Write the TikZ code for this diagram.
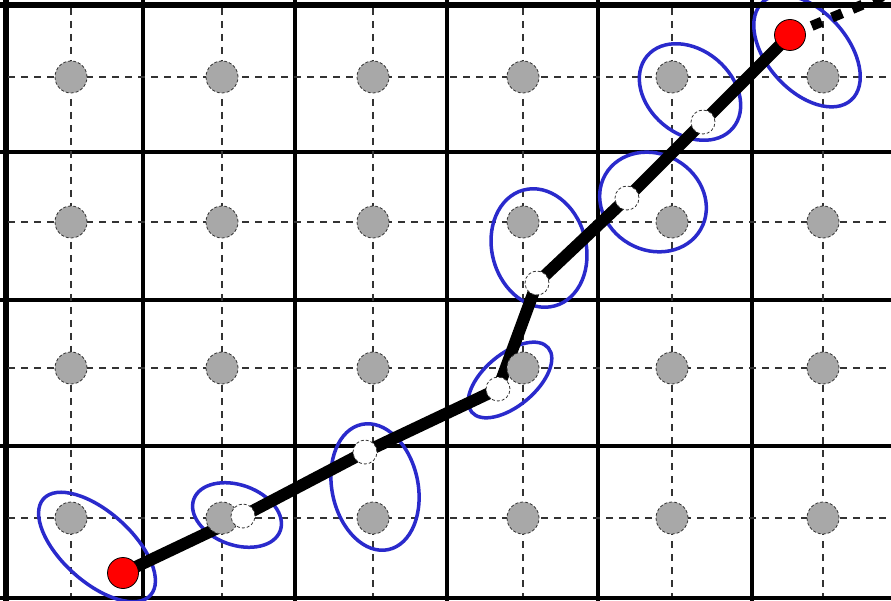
\documentclass[tikz,border=0pt]{standalone}
\usetikzlibrary{shapes.geometric}
\pgfdeclarelayer{background}
\pgfsetlayers{background,main}
\definecolor{ellblue}{RGB}{42,42,204}
\definecolor{dotgray}{RGB}{168,168,168}
\begin{document}
\begin{tikzpicture}[x=1pt,y=1pt,
  gridline/.style={line width=3.5pt, black},
  guide/.style={line width=1.5pt, black!80, dash pattern=on 7pt off 6pt},
  graydot/.style={circle, inner sep=0pt, minimum size=32pt, fill=dotgray, draw=black!80, line width=0.8pt, dash pattern=on 3pt off 2pt},
  whitedot/.style={circle, inner sep=0pt, minimum size=24pt, fill=white, draw=black!80, line width=0.8pt, dash pattern=on 3pt off 2pt},
  reddot/.style={circle, inner sep=0pt, minimum size=31pt, fill=red, draw=black, line width=0.8pt},
  ring/.style={ellipse, inner sep=0pt, draw=ellblue, line width=3.5pt},
  route/.style={line width=12pt, line join=round, line cap=round},
  routetail/.style={line width=10pt, dash pattern=on 11pt off 11pt, dash phase=-1.5pt},
]
\useasboundingbox (0,0) rectangle (891,-601);
\clip (0,0) rectangle (891,-601);

% gray grid dots
\foreach \x [count=\i] in {71,222,373,523,672,823}
  \foreach \y [count=\j] in {77,222,368,518}
    \node[graydot] (g\i\j) at (\x,-\y) {};

% route points
\node[reddot]   (r1) at (123,-573) {};
\node[whitedot] (w1) at (243,-516) {};
\node[whitedot] (w2) at (365,-452) {};
\node[whitedot] (w3) at (498,-389) {};
\node[whitedot] (w4) at (537,-283) {};
\node[whitedot] (w5) at (627,-198) {};
\node[whitedot] (w6) at (703,-122) {};
\node[reddot]   (r2) at (790,-35) {};
\coordinate (tail) at (905,13);

\begin{pgfonlayer}{background}
  \clip (0,0) rectangle (891,-601);
  \fill[white] (0,0) rectangle (891,-601);
  % solid cell grid
  \foreach \x in {143,295,447,598,752}
    \draw[gridline] (\x,0) -- (\x,-601);
  \foreach \y in {152,300,446}
    \draw[gridline] (0,-\y) -- (891,-\y);
  \draw[line width=5.5pt] (6,0) -- (6,-601);
  \draw[line width=4pt] (0,-598) -- (891,-598);
  % dashed guides through cell centres
  \foreach \y in {77,222,368,518}
    \draw[guide] (8,-\y) -- (891,-\y);
  \foreach \x in {71,222,373,523,672,823}
    \draw[guide] (\x,-8) -- (\x,-596);
  % ellipses
  \node[ring, minimum width=144pt, minimum height=70pt, rotate=-42] (e1) at (97,-547) {};
  \node[ring, minimum width=92pt, minimum height=60pt, rotate=-20] (e2) at (237,-515) {};
  \node[ring, minimum width=86pt, minimum height=128pt, rotate=12] (e3) at (375,-487) {};
  \node[ring, minimum width=100pt, minimum height=52pt, rotate=40] (e4) at (510,-380) {};
  \node[ring, minimum width=94pt, minimum height=120pt, rotate=15] (e5) at (539,-248) {};
  \node[ring, minimum width=110pt, minimum height=96pt, rotate=-30] (e6) at (653,-202) {};
  \node[ring, minimum width=112pt, minimum height=84pt, rotate=-40] (e7) at (690,-92) {};
  \node[ring, minimum width=132pt, minimum height=80pt, rotate=-48] (e8) at (807,-51) {};
  % route
  \draw[route] (r1.center) -- (w1.center) -- (w2.center) -- (w3.center)
     -- (w4.center) -- (w5.center) -- (w6.center) -- (r2.center);
  \draw[routetail] (r2.center) -- (tail);
  % top border drawn over ellipse 8
  \draw[line width=6pt] (0,-5) -- (891,-5);
\end{pgfonlayer}
\end{tikzpicture}
\end{document}
